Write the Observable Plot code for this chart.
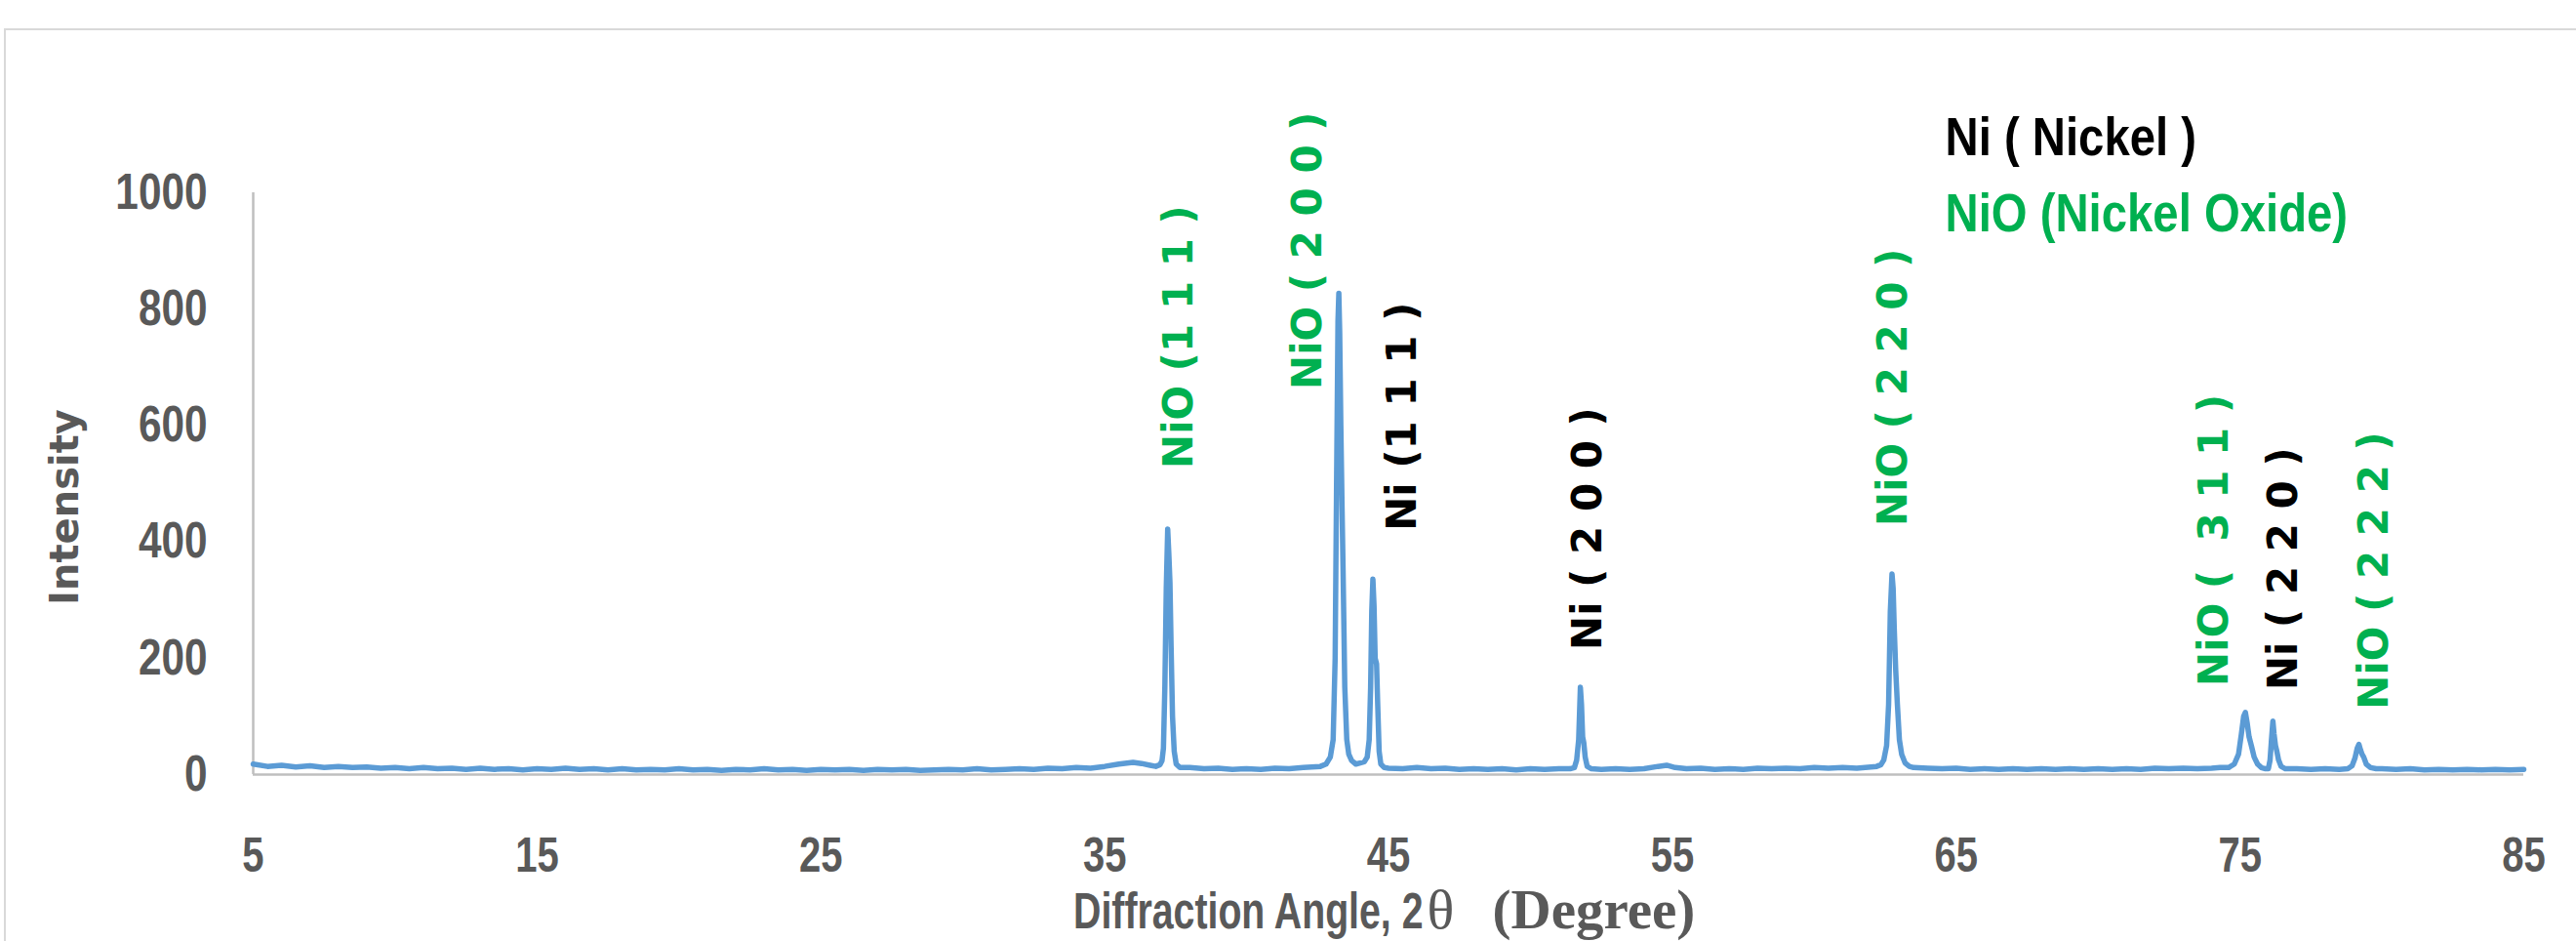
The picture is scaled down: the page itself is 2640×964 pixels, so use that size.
<!DOCTYPE html>
<html><head><meta charset="utf-8">
<script src="https://cdn.jsdelivr.net/npm/d3@7"></script>
<script src="https://cdn.jsdelivr.net/npm/@observablehq/plot@0.6"></script>
<style>
body{margin:0;background:#fff;}
#wrap{position:relative;width:2640px;height:964px;overflow:hidden;background:#fff;}
#border{position:absolute;left:4px;top:29px;width:2700px;height:1100px;border:2px solid #d9d9d9;box-sizing:border-box;pointer-events:none;}
</style></head><body><div id="wrap"><div id="border"></div></div>
<script>
// XRD pattern: 2θ (degree) and intensity
const twoTheta = [
 5.0,5.5,6.0,6.5,7.0,7.5,8.0,8.5,9.0,9.5,10.0,10.5,11.0,11.5,12.0,12.5,13.0,13.5,14.0,14.5,
 15.0,15.5,16.0,16.5,17.0,17.5,18.0,18.5,19.0,19.5,20.0,20.5,21.0,21.5,22.0,22.5,23.0,23.5,24.0,24.5,
 25.0,25.5,26.0,26.5,27.0,27.5,28.0,28.5,29.0,29.5,30.0,30.5,31.0,31.5,32.0,32.5,33.0,33.5,34.0,34.5,
 35.0,35.5,36.0,36.3,36.6,
 36.8,36.95,37.02,37.07,37.12,37.17,37.22,37.26,37.3,37.34,37.39,37.45,37.52,37.65,
 38.0,38.5,39.0,39.5,40.0,40.5,41.0,41.5,42.0,42.3,
 42.6,42.8,42.95,43.05,43.12,43.17,43.22,43.25,43.28,43.32,43.36,43.4,43.46,43.53,43.6,43.7,43.85,
 44.0,44.15,44.25,44.32,44.37,44.41,44.45,44.49,44.53,44.58,44.62,44.67,44.73,44.85,
 45.0,45.5,46.0,46.5,47.0,47.5,48.0,48.5,49.0,49.5,50.0,50.5,51.0,
 51.4,51.55,51.63,51.7,51.76,51.8,51.84,51.88,51.93,52.0,52.15,
 52.5,53.0,53.5,54.0,54.5,54.8,55.1,55.5,56.0,56.5,57.0,57.5,58.0,58.5,59.0,59.5,60.0,60.5,61.0,61.5,62.0,
 62.2,62.35,62.45,62.55,62.62,62.68,62.74,62.78,62.82,62.87,62.93,63.0,63.08,63.2,63.35,63.5,
 64.0,64.5,65.0,65.5,66.0,66.5,67.0,67.5,68.0,68.5,69.0,69.5,70.0,70.5,71.0,71.5,72.0,72.5,73.0,73.5,74.0,74.3,
 74.6,74.8,74.95,75.05,75.13,75.19,75.25,75.32,75.4,75.5,75.62,75.75,75.9,
 76.0,76.06,76.11,76.16,76.2,76.25,76.3,76.36,76.45,76.6,
 77.0,77.5,78.0,78.5,
 78.8,78.95,79.05,79.13,79.19,79.25,79.3,79.36,79.45,79.6,79.8,
 80.0,80.5,81.0,81.5,82.0,82.5,83.0,83.5,84.0,84.5,85.0
];
const intensity = [
 18,14,16,13,15,12,14,12,13,11,12,10,12,10,11,9,11,9,10,8,
 10,9,11,9,10,8,10,8,9,8,10,8,9,7,9,8,10,8,9,7,
 9,8,9,7,9,8,9,7,8,9,8,10,8,9,10,9,11,10,12,11,
 14,18,21,19,16,
 14,17,24,45,150,320,422,380,330,220,100,40,18,12,
 12,10,11,9,10,9,11,10,12,13,
 14,18,30,60,200,500,780,827,760,600,470,350,150,60,35,24,18,
 20,22,30,60,150,280,336,290,200,190,120,40,18,12,
 11,10,12,10,11,9,10,9,10,8,10,9,10,
 10,12,25,60,150,120,65,55,30,14,10,
 9,10,9,10,14,16,12,10,11,9,10,9,11,10,11,10,12,11,12,11,13,
 14,17,25,50,120,280,345,320,250,180,120,60,35,20,14,12,
 11,10,11,9,10,9,10,9,10,9,10,9,10,9,10,9,11,10,11,10,11,12,
 12,18,35,70,100,107,90,65,50,30,18,12,10,
 10,25,60,92,70,50,40,25,14,10,
 10,9,10,9,
 10,15,28,45,52,42,35,30,18,12,10,
 10,9,10,8,9,8,9,8,9,8,9
];
const xTicks = [5,15,25,35,45,55,65,75,85];
const yTicks = [0,200,400,600,800,1000];

// peak annotations
const peakLabels = ["NiO (1 1 1 )","NiO ( 2 0 0 )","Ni (1 1 1 )","Ni ( 2 0 0 )","NiO ( 2 2 0 )","NiO (  3 1 1 )","Ni ( 2 2 0 )","NiO ( 2 2 2 )"];
const peakLabelAngle = [37.62,42.16,45.49,52.03,62.79,74.12,76.55,79.75];
const peakLabelStart = [526,662,419,214,427,152,145,112];
const peakPhase = ["NiO","NiO","Ni","Ni","NiO","NiO","Ni","NiO"];

const legendLabels = ["Ni ( Nickel )","NiO (Nickel Oxide)"];
const phaseColor = {Ni:"#000000", NiO:"#00B050"};

const xTitleSans = "Diffraction Angle, 2";
const xTitleTheta = "θ";
const xTitleUnit = "(Degree)";
const yTitle = "Intensity";

const rows = twoTheta.map((t,i)=>({t, c: intensity[i]}));
const labels = peakLabels.map((s,i)=>({s, a: peakLabelAngle[i], y: peakLabelStart[i], p: peakPhase[i]}));

const sans = "'Liberation Sans',Arial,sans-serif";
const serif = "'Liberation Serif','Times New Roman',serif";
const gray = "#595959";

const chart = Plot.plot({
  width: 2640, height: 964,
  marginLeft: 259, marginRight: 54, marginTop: 197, marginBottom: 171,
  style: {background: "#fff", overflow: "visible"},
  x: {domain: [5,85]},
  y: {domain: [0,1000]},
  marks: [
    Plot.ruleY([0], {stroke: "#bfbfbf", strokeWidth: 2.5}),
    Plot.ruleX([5], {y1: 0, y2: 1000, stroke: "#bfbfbf", strokeWidth: 2.5}),
    Plot.axisX({ticks: xTicks, tickSize: 0, tickPadding: 64, tickFormat: d => String(d), label: null,
      fontSize: 50, fontWeight: "bold", fontFamily: sans, color: gray}),
    Plot.axisY({ticks: yTicks, tickSize: 0, tickPadding: 47, tickFormat: d => String(d), label: null,
      fontSize: 51, fontWeight: "bold", fontFamily: sans, color: gray}),
    Plot.line(rows, {x: "t", y: "c", stroke: "#5B9BD5", strokeWidth: 5.5, strokeLinejoin: "round"}),
    Plot.text(labels, {x: "a", y: "y", text: "s", rotate: -90, textAnchor: "start", lineAnchor: "middle",
      fill: d => phaseColor[d.p], fontSize: 42, fontWeight: "bold", fontFamily: "'DejaVu Sans',sans-serif"}),
    Plot.text([legendLabels[0]], {frameAnchor: "top-left", dx: 1734, dy: -56, textAnchor: "start", lineAnchor: "middle",
      fill: phaseColor.Ni, fontSize: 55, fontWeight: "bold", fontFamily: sans}),
    Plot.text([legendLabels[1]], {frameAnchor: "top-left", dx: 1734, dy: 22, textAnchor: "start", lineAnchor: "middle",
      fill: phaseColor.NiO, fontSize: 55, fontWeight: "bold", fontFamily: sans}),
    Plot.text([yTitle], {frameAnchor: "left", dx: -192, dy: 24, rotate: -90, textAnchor: "middle", lineAnchor: "middle",
      fill: gray, fontSize: 40, fontWeight: "bold", fontFamily: "'DejaVu Sans',sans-serif"}),
    // x title in three runs: condensed sans, serif theta, bold serif unit
    Plot.text([xTitleSans], {frameAnchor: "bottom-left", dx: 1199, dy: 157, textAnchor: "end", lineAnchor: "bottom",
      fill: gray, fontSize: 51, fontWeight: "bold", fontFamily: sans}),
    Plot.text([xTitleTheta], {frameAnchor: "bottom-left", dx: 1203, dy: 157, textAnchor: "start", lineAnchor: "bottom",
      fill: gray, fontSize: 58, fontFamily: serif}),
    Plot.text([xTitleUnit], {frameAnchor: "bottom-left", dx: 1270, dy: 157, textAnchor: "start", lineAnchor: "bottom",
      fill: gray, fontSize: 57, fontWeight: "bold", fontFamily: serif})
  ]
});
document.getElementById("wrap").prepend(chart);

// the reference uses a condensed face: squeeze glyphs horizontally about each text's anchor
function condense(sel, k) {
  sel.each(function() {
    const x = +this.getAttribute("x") || 0;
    const t = this.getAttribute("transform") || "";
    this.setAttribute("transform", `${t} translate(${x},0) scale(${k},1) translate(${-x},0)`.trim());
  });
}
const svg = d3.select(chart);
condense(svg.selectAll('g[aria-label="y-axis tick label"] text'), 0.83);
condense(svg.selectAll('g[aria-label="x-axis tick label"] text'), 0.8);
condense(svg.selectAll("text").filter(function(){ return legendLabels.includes(this.textContent); }), 0.86);
condense(svg.selectAll("text").filter(function(){ return this.textContent === xTitleSans; }), 0.77);
</script>
</body></html>
